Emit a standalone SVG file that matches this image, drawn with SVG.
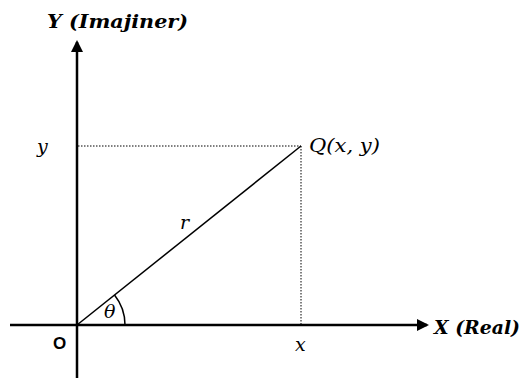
<svg xmlns="http://www.w3.org/2000/svg" width="525" height="378" viewBox="0 0 525 378">
<style>
.ax{stroke:#000;stroke-width:2.5;fill:none}
.dot{stroke:#000;stroke-width:1;stroke-dasharray:1.5,1.5;fill:none}
.ln{stroke:#000;stroke-width:1.5;fill:none}
.m{font-family:"DejaVu Serif","Liberation Serif",serif;font-style:italic;fill:#000;font-size:19px}
.b{font-weight:bold}
</style>
<defs>
<marker id="ah" markerWidth="12" markerHeight="12" refX="10" refY="6" orient="auto" markerUnits="userSpaceOnUse" viewBox="0 0 12 12">
<path d="M0,0 L12,6 L0,12 z" fill="#000"/>
</marker>
</defs>
<g id="connectors">
<line class="ax" x1="77" y1="378" x2="77" y2="42" marker-end="url(#ah)"/>
<line class="ax" x1="10" y1="325" x2="427" y2="325" marker-end="url(#ah)"/>
<line class="dot" x1="78" y1="146" x2="301" y2="146"/>
<line class="dot" x1="301" y1="146" x2="301" y2="324"/>
<line class="ln" x1="77" y1="325" x2="301" y2="146"/>
<path class="ln" d="M114.5,295 A48,48 0 0 1 125,325" stroke-width="1"/>
</g>
<g id="labels">
<text class="m b" x="47" y="28" textLength="141" lengthAdjust="spacingAndGlyphs">Y (Imajiner)</text>
<text class="m" x="37" y="153">y</text>
<text class="m" x="309" y="152" textLength="71" lengthAdjust="spacingAndGlyphs">Q(x, y)</text>
<text class="m" x="180" y="229">r</text>
<text class="m" x="104" y="318">θ</text>
<text x="53" y="349" font-family="Liberation Sans, sans-serif" font-weight="bold" font-size="17">O</text>
<text class="m" x="295" y="351">x</text>
<text class="m b" x="434" y="334" textLength="86" lengthAdjust="spacingAndGlyphs">X (Real)</text>
</g>
</svg>
